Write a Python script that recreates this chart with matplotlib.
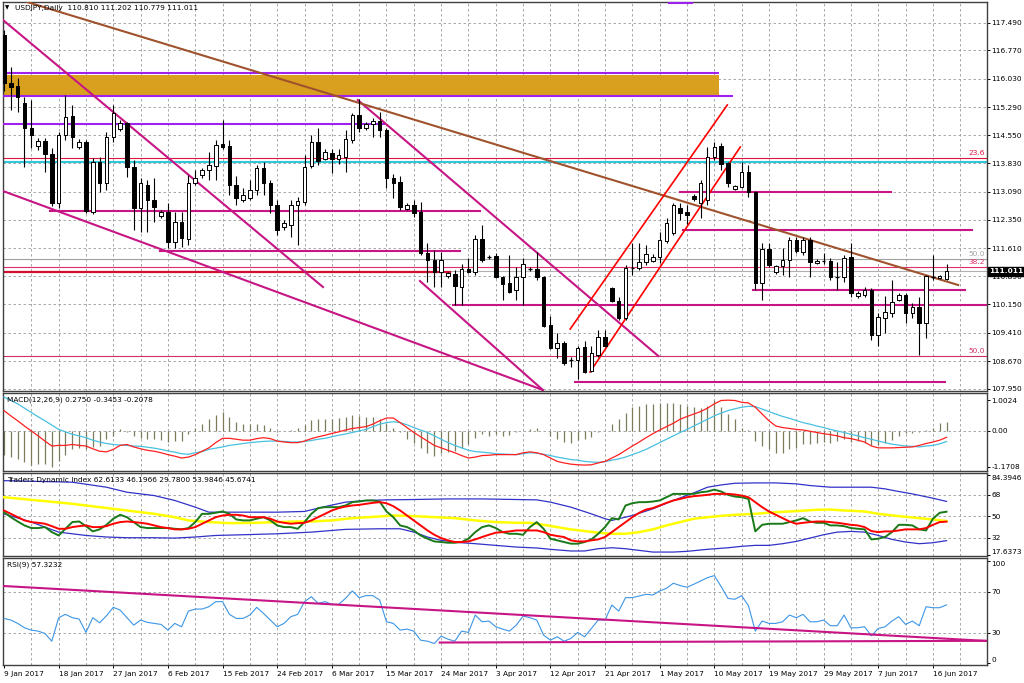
import matplotlib
matplotlib.use("Agg")
import matplotlib.pyplot as plt
import matplotlib.transforms as mtransforms
from matplotlib.patches import Rectangle
from matplotlib.collections import PatchCollection, LineCollection

plt.rcParams['font.family'] = ['DejaVu Sans']
plt.rcParams['font.size'] = 5.3
FS = 5.3

# ---------------- data ----------------
date_labels = ["9 Jan 2017", "18 Jan 2017", "27 Jan 2017", "6 Feb 2017", "15 Feb 2017",
               "24 Feb 2017", "6 Mar 2017", "15 Mar 2017", "24 Mar 2017", "3 Apr 2017",
               "12 Apr 2017", "21 Apr 2017", "1 May 2017", "10 May 2017", "19 May 2017",
               "29 May 2017", "7 Jun 2017", "16 Jun 2017"]

opens = [117.17, 115.92, 115.84, 115.40, 114.75, 114.28, 114.41, 114.07, 112.79, 114.56,
         115.06, 114.25, 114.38, 112.56, 113.86, 113.31, 114.51, 114.72, 114.88, 113.73,
         112.66, 113.26, 112.87, 112.45, 112.56, 111.78, 112.30, 111.85, 113.31, 113.52,
         113.65, 113.75, 114.33, 114.28, 113.26, 112.87, 112.92, 113.13, 113.70, 113.31,
         112.74, 112.17, 112.22, 112.74, 112.82, 113.75, 114.38, 113.94, 114.09, 113.94,
         113.99, 114.43, 115.08, 114.75, 114.85, 114.93, 114.69, 113.44, 113.34, 112.64,
         112.74, 112.56, 111.49, 111.31, 110.99, 110.89, 110.94, 110.60, 111.07, 110.99,
         111.85, 111.39, 111.41, 110.86, 110.71, 110.53, 110.86, 111.07, 111.07, 110.86,
         109.61, 109.02, 109.15, 108.70, 108.70, 109.04, 108.42, 108.83, 109.30, 110.58,
         110.24, 109.80, 111.10, 111.10, 111.26, 111.28, 111.39, 111.80, 112.01, 112.66,
         112.56, 112.97, 112.79, 112.87, 113.99, 114.28, 113.83, 113.16, 113.21, 113.60,
         113.08, 110.71, 111.59, 110.99, 111.15, 111.31, 111.83, 111.52, 111.83, 111.23,
         111.28, 111.28, 110.86, 110.86, 111.39, 110.37, 110.40, 110.53, 109.35, 109.80,
         109.93, 110.27, 110.40, 109.93, 110.08, 109.67, 110.86, 110.84, 110.81]

highs = [117.30, 116.33, 116.05, 115.55, 115.47, 114.49, 114.49, 114.22, 114.64, 115.60,
         115.34, 114.45, 114.43, 113.96, 113.99, 114.64, 115.34, 114.96, 114.90, 113.91,
         113.44, 113.39, 113.44, 112.60, 112.79, 112.56, 112.56, 113.52, 113.65, 113.70,
         114.12, 114.43, 114.95, 114.43, 113.50, 113.18, 113.39, 113.78, 113.86, 113.40,
         112.87, 112.35, 112.87, 112.95, 114.04, 114.56, 114.75, 114.20, 114.20, 114.20,
         114.69, 115.14, 115.50, 114.90, 115.00, 115.16, 114.75, 113.55, 113.50, 112.79,
         112.87, 112.82, 111.75, 111.57, 111.52, 110.99, 111.05, 111.20, 111.36, 111.96,
         112.22, 111.44, 111.49, 110.89, 111.44, 111.13, 111.36, 111.13, 111.52, 110.90,
         109.85, 109.41, 109.20, 108.78, 109.07, 109.20, 109.07, 109.48, 109.48, 110.60,
         110.34, 111.18, 111.75, 111.75, 111.70, 111.46, 112.04, 112.40, 112.79, 112.79,
         112.75, 113.03, 113.39, 114.25, 114.38, 114.35, 113.86, 113.26, 113.86, 113.78,
         113.10, 111.75, 111.75, 111.18, 111.62, 111.91, 111.91, 111.91, 111.91, 111.33,
         111.49, 111.36, 111.26, 111.44, 111.75, 110.50, 110.60, 110.58, 109.93, 110.37,
         110.79, 110.45, 110.45, 110.19, 110.34, 110.92, 111.44, 110.92, 111.202]

lows = [115.70, 115.21, 115.16, 113.73, 114.22, 114.17, 113.60, 112.71, 112.66, 114.43,
        114.22, 114.20, 112.53, 112.50, 113.08, 113.13, 114.38, 114.67, 113.47, 112.09,
        112.04, 112.04, 112.30, 112.40, 111.62, 111.62, 111.65, 111.70, 113.26, 113.45,
        113.39, 113.39, 114.20, 113.00, 112.74, 112.82, 112.87, 113.00, 113.00, 112.53,
        111.96, 112.10, 111.90, 111.70, 112.74, 113.70, 113.78, 113.90, 113.57, 113.80,
        113.60, 114.35, 114.64, 114.70, 114.51, 114.51, 113.18, 112.92, 112.61, 112.61,
        112.43, 111.44, 110.74, 110.60, 110.60, 110.85, 110.14, 110.14, 110.97, 110.92,
        111.26, 111.34, 110.84, 110.27, 110.45, 110.27, 110.14, 111.02, 110.79, 109.56,
        108.99, 108.76, 108.57, 108.52, 108.21, 108.37, 108.39, 108.78, 109.04, 110.21,
        109.74, 109.74, 110.92, 111.05, 111.18, 111.26, 111.23, 111.75, 111.96, 112.35,
        112.25, 112.84, 112.40, 112.74, 113.91, 113.65, 113.21, 113.13, 113.18, 112.95,
        110.53, 110.27, 111.13, 110.94, 110.92, 110.86, 111.49, 111.44, 110.86, 111.20,
        111.20, 110.79, 110.53, 110.74, 110.35, 110.32, 110.35, 109.22, 109.07, 109.41,
        109.82, 110.24, 109.67, 109.80, 108.83, 109.28, 110.79, 110.81, 110.779]

closes = [115.92, 115.81, 115.55, 114.75, 114.56, 114.41, 114.07, 112.79, 114.56, 115.03,
          114.51, 114.38, 112.58, 113.86, 113.31, 114.51, 115.14, 114.88, 113.73, 112.66,
          113.31, 112.87, 112.69, 112.56, 111.78, 112.30, 111.88, 113.31, 113.44, 113.65,
          113.78, 114.30, 114.25, 113.26, 112.92, 113.00, 113.13, 113.70, 113.31, 112.74,
          112.09, 112.27, 112.74, 112.84, 113.73, 114.38, 113.89, 114.12, 113.94, 114.04,
          114.46, 115.08, 114.75, 114.85, 114.93, 114.69, 113.44, 113.31, 112.69, 112.74,
          112.53, 111.49, 111.31, 110.99, 111.31, 110.96, 110.63, 111.07, 110.99, 111.85,
          111.31, 111.39, 110.86, 110.68, 110.47, 110.86, 111.20, 111.07, 110.86, 109.59,
          109.02, 109.15, 108.63, 108.70, 109.02, 108.39, 108.89, 109.30, 109.07, 110.24,
          109.80, 111.10, 111.10, 111.26, 111.46, 111.39, 111.83, 112.27, 112.74, 112.53,
          112.48, 112.90, 113.31, 113.99, 114.25, 113.81, 113.31, 113.23, 113.60, 113.08,
          110.71, 111.59, 111.18, 111.15, 111.31, 111.83, 111.54, 111.83, 111.26, 111.28,
          111.28, 110.86, 110.86, 111.36, 110.45, 110.45, 110.53, 109.35, 109.82, 109.95,
          110.21, 110.40, 109.93, 110.08, 109.67, 110.89, 110.86, 110.89, 111.011]

price_ticks = [117.490, 116.770, 116.030, 115.290, 114.550, 113.830, 113.090,
               112.350, 111.610, 110.890, 110.150, 109.410, 108.670, 107.950]

macd_hist = [-0.77, -0.85, -0.91, -1.02, -1.10, -1.06, -1.06, -1.17, -0.99, -0.77,
             -0.60, -0.55, -0.60, -0.52, -0.49, -0.27, -0.16, 0.05, -0.05, -0.16,
             -0.22, -0.27, -0.25, -0.30, -0.36, -0.33, -0.33, -0.11, 0.08, 0.22,
             0.38, 0.52, 0.60, 0.46, 0.30, 0.22, 0.22, 0.24, 0.19, 0.08,
             -0.03, 0.00, 0.03, 0.08, 0.19, 0.35, 0.38, 0.38, 0.38, 0.41,
             0.44, 0.52, 0.49, 0.44, 0.44, 0.38, 0.27, 0.11, -0.05, -0.25,
             -0.38, -0.55, -0.71, -0.80, -0.71, -0.69, -0.66, -0.55, -0.44, -0.22,
             -0.11, -0.16, -0.11, -0.16, -0.14, -0.02, -0.01, 0.05, 0.08, -0.01,
             -0.16, -0.27, -0.36, -0.38, -0.31, -0.27, -0.19, -0.05, -0.01, 0.22,
             0.38, 0.58, 0.77, 0.82, 0.86, 0.88, 0.91, 0.91, 0.91, 0.88,
             0.82, 0.77, 0.74, 0.82, 1.00, 0.77, 0.55, 0.38, 0.11, 0.02,
             -0.33, -0.49, -0.60, -0.71, -0.71, -0.60, -0.55, -0.44, -0.41, -0.38,
             -0.36, -0.38, -0.33, -0.27, -0.36, -0.33, -0.38, -0.47, -0.47, -0.38,
             -0.30, -0.16, -0.08, -0.08, -0.03, 0.03, 0.08, 0.25, 0.275]

macd_red = [0.66, 0.49, 0.33, 0.16, 0.00, -0.16, -0.33, -0.49, -0.47, -0.47,
            -0.44, -0.47, -0.49, -0.58, -0.66, -0.68, -0.60, -0.47, -0.44, -0.52,
            -0.58, -0.63, -0.66, -0.71, -0.77, -0.82, -0.88, -0.85, -0.77, -0.66,
            -0.55, -0.38, -0.24, -0.24, -0.27, -0.30, -0.30, -0.25, -0.22, -0.25,
            -0.33, -0.36, -0.38, -0.38, -0.33, -0.25, -0.19, -0.14, -0.08, -0.03,
            0.03, 0.08, 0.11, 0.14, 0.22, 0.33, 0.42, 0.42, 0.27, 0.11,
            -0.05, -0.19, -0.33, -0.47, -0.55, -0.63, -0.71, -0.80, -0.88, -0.85,
            -0.80, -0.79, -0.77, -0.77, -0.77, -0.77, -0.71, -0.68, -0.71, -0.77,
            -0.88, -0.99, -1.04, -1.08, -1.10, -1.11, -1.10, -1.04, -0.99, -0.88,
            -0.77, -0.63, -0.49, -0.36, -0.22, -0.09, 0.03, 0.14, 0.25, 0.38,
            0.47, 0.55, 0.63, 0.74, 0.88, 0.99, 1.00, 0.99, 0.93, 0.91,
            0.77, 0.55, 0.33, 0.16, 0.11, 0.08, 0.05, 0.03, -0.01, -0.05,
            -0.09, -0.12, -0.16, -0.22, -0.25, -0.30, -0.36, -0.49, -0.55, -0.55,
            -0.55, -0.54, -0.53, -0.52, -0.47, -0.41, -0.36, -0.30, -0.2078]

macd_cyan = [1.10, 0.99, 0.88, 0.74, 0.60, 0.46, 0.33, 0.19, 0.05, -0.03,
             -0.11, -0.16, -0.22, -0.30, -0.36, -0.41, -0.44, -0.46, -0.47, -0.49,
             -0.50, -0.53, -0.56, -0.60, -0.65, -0.69, -0.74, -0.76, -0.71, -0.67,
             -0.60, -0.56, -0.52, -0.47, -0.44, -0.41, -0.38, -0.36, -0.34, -0.33,
             -0.33, -0.34, -0.36, -0.36, -0.34, -0.31, -0.27, -0.24, -0.19, -0.14,
             -0.10, -0.05, 0.00, 0.05, 0.14, 0.22, 0.27, 0.30, 0.27, 0.20,
             0.11, 0.03, -0.05, -0.16, -0.27, -0.38, -0.47, -0.55, -0.63, -0.67,
             -0.69, -0.71, -0.74, -0.75, -0.76, -0.77, -0.74, -0.71, -0.72, -0.76,
             -0.80, -0.85, -0.89, -0.93, -0.95, -0.99, -1.01, -1.02, -1.00, -0.95,
             -0.91, -0.85, -0.77, -0.69, -0.60, -0.49, -0.38, -0.27, -0.16, -0.05,
             0.05, 0.16, 0.27, 0.38, 0.49, 0.58, 0.66, 0.72, 0.77, 0.80,
             0.79, 0.71, 0.63, 0.55, 0.47, 0.41, 0.34, 0.27, 0.22, 0.16,
             0.11, 0.05, 0.00, -0.05, -0.11, -0.16, -0.22, -0.27, -0.33, -0.38,
             -0.43, -0.46, -0.49, -0.50, -0.52, -0.49, -0.47, -0.42, -0.3453]

tdi_green = [53.6, 49.4, 45.8, 42.5, 40.3, 40.3, 41.1, 36.9, 34.1, 39.7,
             45.3, 45.8, 41.9, 37.5, 39.2, 43.0, 48.1, 51.4, 49.4, 45.3,
             41.1, 40.3, 40.3, 40.3, 40.3, 39.7, 39.2, 40.3, 45.3, 52.2,
             52.2, 53.1, 54.2, 52.2, 47.5, 46.7, 46.7, 48.1, 49.4, 46.7,
             42.5, 41.1, 41.1, 39.7, 45.3, 52.2, 57.0, 57.8, 57.8, 57.8,
             59.2, 62.0, 62.5, 63.4, 63.4, 62.5, 54.2, 49.4, 42.5, 41.1,
             38.3, 34.1, 31.4, 29.1, 28.6, 28.0, 28.0, 28.6, 31.4, 36.9,
             41.1, 42.5, 40.3, 36.9, 35.5, 35.5, 34.7, 41.1, 45.3, 39.7,
             31.4, 30.0, 28.6, 27.2, 27.2, 28.6, 30.8, 35.5, 41.1, 48.6,
             47.5, 59.2, 61.1, 62.0, 62.0, 62.5, 63.4, 66.1, 68.9, 68.9,
             68.9, 68.9, 70.3, 70.9, 72.5, 70.9, 68.1, 66.7, 66.1, 64.7,
             37.5, 43.0, 43.9, 43.9, 43.9, 45.3, 46.7, 48.6, 45.8, 44.7,
             44.7, 42.5, 42.5, 41.9, 40.3, 39.7, 39.2, 30.8, 31.4, 32.8,
             36.9, 43.0, 43.0, 42.5, 39.2, 38.3, 48.1, 53.1, 53.98]

tdi_red = [55.0, 52.2, 49.4, 46.7, 45.3, 44.7, 43.9, 41.9, 39.7, 39.7,
           41.1, 41.9, 42.5, 41.1, 41.1, 41.9, 43.9, 45.3, 45.8, 45.3,
           44.7, 43.9, 42.5, 41.1, 40.3, 39.2, 39.2, 39.7, 41.1, 43.9,
           46.7, 49.4, 50.8, 51.4, 51.4, 50.8, 49.4, 49.4, 49.4, 48.1,
           45.8, 44.7, 43.9, 44.4, 44.7, 46.7, 49.4, 52.2, 55.0, 57.0,
           58.3, 59.2, 59.7, 60.6, 61.4, 62.0, 61.1, 58.6, 55.0, 50.8,
           46.7, 42.5, 38.3, 34.7, 31.9, 30.0, 28.6, 28.6, 29.1, 30.8,
           32.8, 34.7, 36.4, 36.9, 37.5, 38.3, 38.3, 38.3, 38.3, 36.9,
           34.7, 33.6, 32.8, 30.0, 29.1, 29.1, 30.0, 30.8, 32.8, 36.9,
           41.1, 45.3, 49.4, 53.1, 55.8, 57.0, 59.2, 61.4, 63.4, 64.7,
           66.1, 67.0, 67.5, 68.1, 68.9, 68.9, 68.9, 68.4, 67.5, 66.1,
           62.0, 57.8, 54.2, 51.4, 48.6, 45.8, 43.9, 44.7, 45.3, 45.8,
           45.8, 45.3, 44.7, 43.9, 43.0, 42.5, 41.1, 37.8, 36.9, 37.5,
           37.5, 38.3, 39.2, 39.2, 39.2, 40.3, 43.0, 45.3, 45.67]

tdi_upper_bar = [0, 10, 15, 18, 22, 25, 28, 30, 35, 40, 44, 47, 50, 53, 56, 60, 65, 70,
                 75, 78, 80, 83, 86, 88, 89, 90, 92, 95, 98, 101, 103, 105, 107, 110,
                 113, 116, 118, 121, 125, 127, 129, 131, 133, 136, 138]
tdi_upper_val = [80.0, 78.7, 74.5, 70.3, 67.5, 63.4, 57.8, 53.6, 53.6, 53.6, 54.2, 58.3,
                 62.0, 63.4, 63.9, 64.2, 64.7, 64.7, 64.2, 63.9, 62.0, 57.8, 52.2, 48.1,
                 46.7, 48.1, 50.8, 56.4, 63.4, 69.8, 74.5, 76.4, 77.8, 78.1, 78.1, 77.3,
                 75.9, 74.5, 74.5, 74.5, 73.1, 70.9, 68.9, 65.3, 62.61]

tdi_lower_bar = [0, 4, 8, 12, 15, 18, 22, 25, 28, 31, 35, 40, 45, 50, 55, 58, 60, 62, 64,
                 67, 69, 72, 75, 78, 80, 83, 85, 87, 89, 91, 93, 95, 98, 100, 103, 106,
                 108, 110, 112, 114, 116, 118, 120, 122, 124, 126, 128, 130, 132, 134,
                 136, 138]
tdi_lower_val = [52.2, 45.3, 36.9, 34.1, 32.8, 32.2, 32.2, 31.9, 32.8, 34.1, 34.7, 35.5,
                 36.9, 39.2, 39.7, 39.7, 36.9, 32.8, 30.0, 28.0, 27.2, 25.8, 24.4, 23.6,
                 22.5, 21.1, 21.1, 23.0, 23.8, 23.0, 21.6, 20.2, 20.2, 20.8, 22.5, 23.8,
                 25.0, 25.8, 25.8, 27.2, 29.1, 31.9, 34.7, 36.9, 37.5, 36.9, 34.1, 30.8,
                 28.6, 27.2, 28.0, 29.78]

tdi_mid_bar = [0, 5, 10, 14, 18, 22, 25, 27, 30, 33, 37, 40, 43, 45, 48, 51, 55, 57, 60,
               63, 66, 69, 72, 75, 77, 79, 81, 83, 85, 87, 89, 91, 93, 95, 97, 99, 101,
               104, 107, 110, 113, 116, 119, 121, 123, 126, 128, 131, 134, 136, 138]
tdi_mid_val = [66.1, 63.4, 60.6, 57.8, 55.0, 52.2, 49.4, 46.7, 45.3, 44.4, 44.7, 45.3,
               45.8, 45.8, 46.7, 48.6, 50.0, 50.8, 50.3, 49.4, 48.6, 46.7, 45.3, 44.7,
               44.7, 43.0, 41.1, 39.2, 37.8, 36.4, 35.5, 35.5, 36.9, 39.2, 42.5, 45.3,
               48.1, 50.0, 51.4, 52.2, 53.6, 54.5, 55.6, 55.8, 55.0, 54.2, 52.2, 50.3,
               48.6, 47.5, 46.20]

rsi_vals = [44.0, 42.4, 39.1, 34.8, 32.5, 31.5, 29.2, 21.6, 44.7, 48.0,
            44.7, 43.4, 30.2, 44.7, 39.7, 46.6, 54.9, 52.2, 44.7, 37.4,
            42.4, 40.1, 39.1, 38.1, 32.5, 39.1, 35.8, 51.2, 53.2, 53.2,
            55.5, 60.5, 60.5, 48.0, 44.0, 44.0, 47.3, 54.9, 48.9, 42.4,
            35.8, 39.1, 45.7, 48.0, 60.5, 65.4, 58.8, 60.5, 57.8, 57.8,
            63.7, 71.0, 64.4, 66.4, 66.4, 62.1, 40.7, 39.1, 32.5, 33.5,
            31.5, 22.6, 21.6, 19.3, 26.6, 23.6, 21.6, 31.5, 30.2, 47.3,
            40.7, 41.4, 35.8, 33.5, 31.5, 37.4, 46.3, 44.7, 42.4, 27.6,
            22.6, 25.9, 21.6, 24.3, 30.2, 25.9, 34.1, 42.4, 42.4, 57.2,
            51.2, 64.4, 64.4, 66.1, 67.7, 67.0, 71.0, 73.6, 78.6, 76.3,
            74.6, 77.6, 80.9, 84.1, 86.1, 75.3, 63.7, 62.8, 66.4, 56.5,
            31.5, 41.4, 39.1, 39.1, 40.7, 47.3, 44.7, 48.0, 40.7, 40.7,
            42.4, 36.8, 36.8, 47.3, 34.8, 34.8, 35.8, 26.9, 34.1, 35.8,
            41.4, 45.7, 38.1, 41.4, 36.8, 55.5, 54.5, 54.5, 57.32]

# chart objects: (bar, price) anchors
gold_zone = (-0.15, 104.7, 115.617, 116.125)
purple_hlines = [(116.19, -0.15, 104.7), (115.58, -0.15, 106.7), (114.836, -0.15, 55.8),
                 (118.0, 97.2, 100.9)]
magenta_hlines = [(112.591, 6.7, 69.7), (111.542, 22.8, 66.8), (110.135, 65.7, 144.0),
                  (108.138, 83.6, 137.8), (113.078, 99.0, 129.9), (112.088, 99.4, 141.7),
                  (110.526, 109.7, 140.7)]
magenta_trends = [((-0.15, 117.557), (46.7, 110.604)), ((-0.15, 113.104), (78.9, 107.922)),
                  ((51.8, 115.474), (95.8, 108.807)), ((60.9, 110.76), (78.9, 107.922))]
brown_trend = ((3.37, 118.026), (139.7, 110.656))
red_channel = [((82.9, 109.51), (105.9, 115.344)), ((85.8, 108.39), (107.8, 114.25))]
fib_levels = [("23.6", 113.956, '#dc143c'), ("50.0", 111.333, '#a0a0a0'),
              ("38.2", 111.117, '#e0306a'), ("50.0", 108.807, '#d0306a')]
cyan_level = 113.872
red_level = (111.00, -0.15, 65.3)
bid_price = 111.011

rsi_trend_upper = ((-0.15, 75.9), (144.0, 21.8))
rsi_trend_lower = ((63.8, 20.3), (144.0, 22.0))

# ---------------- layout ----------------
W, H = 1024, 683
fig = plt.figure(figsize=(W / 100, H / 100), dpi=100)
fig.patch.set_facecolor('white')
LEFT, RIGHT = 3, 987


def rect(top, bot):
    return [LEFT / W, 1 - bot / H, (RIGHT - LEFT) / W, (bot - top) / H]


ax1 = fig.add_axes(rect(2, 391))
ax2 = fig.add_axes(rect(393, 471))
ax3 = fig.add_axes(rect(473, 556))
ax4 = fig.add_axes(rect(558, 665))

PXBAR = 6.83
xl = (LEFT - 4) / PXBAR
xr = (RIGHT - 4) / PXBAR
gridc = '#9a9a9a'
gls = (0, (3, 3))
n = len(closes)
bars = list(range(n))

for ax in (ax1, ax2, ax3, ax4):
    ax.set_xlim(xl, xr)
    ax.set_facecolor('white')
    for s in ax.spines.values():
        s.set_color('#404040')
        s.set_linewidth(1.0)
    for g in range(4, 144, 4):
        ax.axvline(g, color=gridc, lw=0.6, ls=gls, zorder=0)
    ax.yaxis.tick_right()
    ax.tick_params(axis='y', length=2.0, width=0.7, pad=1.3, labelsize=FS, colors='black')
    ax.tick_params(axis='x', length=0, labelbottom=False)

# ---------------- main panel ----------------
ax1.set_ylim(107.896, 118.026)
ax1.set_yticks(price_ticks)
ax1.set_yticklabels([f"{v:.3f}" for v in price_ticks])
for p in price_ticks:
    ax1.axhline(p, color=gridc, lw=0.6, ls=gls, zorder=0)

g0, g1, gb, gt = gold_zone
ax1.add_patch(Rectangle((g0, gb), g1 - g0, gt - gb, facecolor='#d9a020', edgecolor='none', zorder=1))
for (p, a, b) in purple_hlines:
    ax1.plot([a, b], [p, p], color='#a020f0', lw=1.5, zorder=3, solid_capstyle='butt')

for lab, p, c in fib_levels:
    ax1.axhline(p, color=c, lw=0.8, zorder=2)
    ax1.text(xr - 0.3, p + 0.05, lab, color=c, fontsize=FS, ha='right', va='bottom', zorder=6)
ax1.axhline(cyan_level, color='#30c8d8', lw=1.5, zorder=2)
ax1.axhline(bid_price, color='#b0b0b0', lw=0.8, zorder=2)
rp, ra, rb = red_level
ax1.plot([ra, rb], [rp, rp], color='#d01030', lw=1.6, zorder=2)

for (p, a, b) in magenta_hlines:
    ax1.plot([a, b], [p, p], color='#c71585', lw=1.5, zorder=3)
for (p0, p1) in magenta_trends:
    ax1.plot([p0[0], p1[0]], [p0[1], p1[1]], color='#c71585', lw=1.5, zorder=3)
ax1.plot([brown_trend[0][0], brown_trend[1][0]], [brown_trend[0][1], brown_trend[1][1]],
         color='#a0522d', lw=1.5, zorder=3)
for (p0, p1) in red_channel:
    ax1.plot([p0[0], p1[0]], [p0[1], p1[1]], color='#ff0000', lw=1.2, zorder=3)

# candles
bw = 0.52
wick_segs = []
bodies_black, bodies_white = [], []
doji_segs = []
for i in bars:
    o, h, l, c = opens[i], highs[i], lows[i], closes[i]
    wick_segs.append([(i, l), (i, h)])
    if abs(c - o) < 0.015:
        doji_segs.append([(i - bw / 2, c), (i + bw / 2, c)])
    elif c > o:
        bodies_white.append(Rectangle((i - bw / 2, o), bw, c - o))
    else:
        bodies_black.append(Rectangle((i - bw / 2, c), bw, o - c))
ax1.add_collection(LineCollection(wick_segs, colors='black', linewidths=0.8, zorder=4))
ax1.add_collection(LineCollection(doji_segs, colors='black', linewidths=0.9, zorder=5))
ax1.add_collection(PatchCollection(bodies_white, facecolor='white', edgecolor='black',
                                   linewidth=0.7, zorder=5))
ax1.add_collection(PatchCollection(bodies_black, facecolor='black', edgecolor='black',
                                   linewidth=0.7, zorder=5))

ax1.text(0.002, 0.992, "\u25BC", transform=ax1.transAxes, fontsize=4, va='top', ha='left')
ax1.text(0.012, 0.993, "USDJPY,Daily  110.810 111.202 110.779 111.011",
         transform=ax1.transAxes, fontsize=FS, va='top', ha='left')
trans1 = mtransforms.blended_transform_factory(ax1.transAxes, ax1.transData)
ax1.text(1.002, bid_price, f"{bid_price:.3f}", transform=trans1, color='white',
         fontsize=FS, fontweight='bold', va='center', ha='left', zorder=10,
         bbox=dict(facecolor='black', edgecolor='black', pad=1.0))

# ---------------- MACD ----------------
ax2.set_ylim(-1.302, 1.233)
ax2.axhline(0, color=gridc, lw=0.6, ls=gls, zorder=0)
ax2.vlines(bars, 0, macd_hist, colors='#7c7c5c', linewidth=0.9, zorder=2)
ax2.plot(bars, macd_cyan, color='#48c0e0', lw=0.9, zorder=3)
ax2.plot(bars, macd_red, color='#ff2020', lw=0.9, zorder=4)
ax2.set_yticks([1.0024, 0.0, -1.1708])
ax2.set_yticklabels(["1.0024", "0.00", "-1.1708"])
ax2.text(0.004, 0.96, "MACD(12,26,9) 0.2750 -0.3453 -0.2078", transform=ax2.transAxes,
         fontsize=FS, va='top', ha='left')

# ---------------- TDI ----------------
ax3.set_ylim(16.9, 86.4)
for g in (68, 50, 32):
    ax3.axhline(g, color=gridc, lw=0.6, ls=gls, zorder=0)
ax3.plot(tdi_upper_bar, tdi_upper_val, color='#3232c8', lw=0.9, zorder=2)
ax3.plot(tdi_lower_bar, tdi_lower_val, color='#3232c8', lw=0.9, zorder=2)
ax3.plot(tdi_mid_bar, tdi_mid_val, color='#ffff00', lw=1.8, zorder=3)
ax3.plot(bars, tdi_green, color='#1a7a1a', lw=1.4, zorder=4)
ax3.plot(bars, tdi_red, color='#ff0000', lw=1.4, zorder=5)
ax3.set_yticks([84.3946, 68, 50, 32, 17.6373])
ax3.set_yticklabels(["84.3946", "68", "50", "32", "17.6373"])
tl = ax3.get_yticklabels()
tl[0].set_va('top')
tl[-1].set_va('bottom')
ax3.text(0.004, 0.955, "Traders Dynamic Index 62.6133 46.1966 29.7800 53.9846 45.6741",
         transform=ax3.transAxes, fontsize=FS, va='top', ha='left')

# ---------------- RSI ----------------
ax4.set_ylim(-1.8, 103.4)
for g in (70, 30):
    ax4.axhline(g, color=gridc, lw=0.6, ls=gls, zorder=0)
ax4.plot(bars, rsi_vals, color='#3c96e6', lw=0.8, zorder=3)
for (p0, p1) in (rsi_trend_upper, rsi_trend_lower):
    ax4.plot([p0[0], p1[0]], [p0[1], p1[1]], color='#c71585', lw=1.5, zorder=4)
ax4.set_yticks([100, 70, 30, 0])
ax4.set_yticklabels(["100", "70", "30", "0"])
tl = ax4.get_yticklabels()
tl[0].set_va('top')
tl[-1].set_va('bottom')
ax4.text(0.004, 0.965, "RSI(9) 57.3232", transform=ax4.transAxes,
         fontsize=FS, va='top', ha='left')

ax4.set_xticks(list(range(0, 8 * len(date_labels), 8)))
ax4.set_xticklabels(date_labels)
ax4.tick_params(axis='x', length=2.5, width=0.7, pad=1.5, labelbottom=True, labelsize=FS)
for t in ax4.get_xticklabels():
    t.set_ha('left')

fig.savefig("out.png", dpi=100, facecolor='white')
